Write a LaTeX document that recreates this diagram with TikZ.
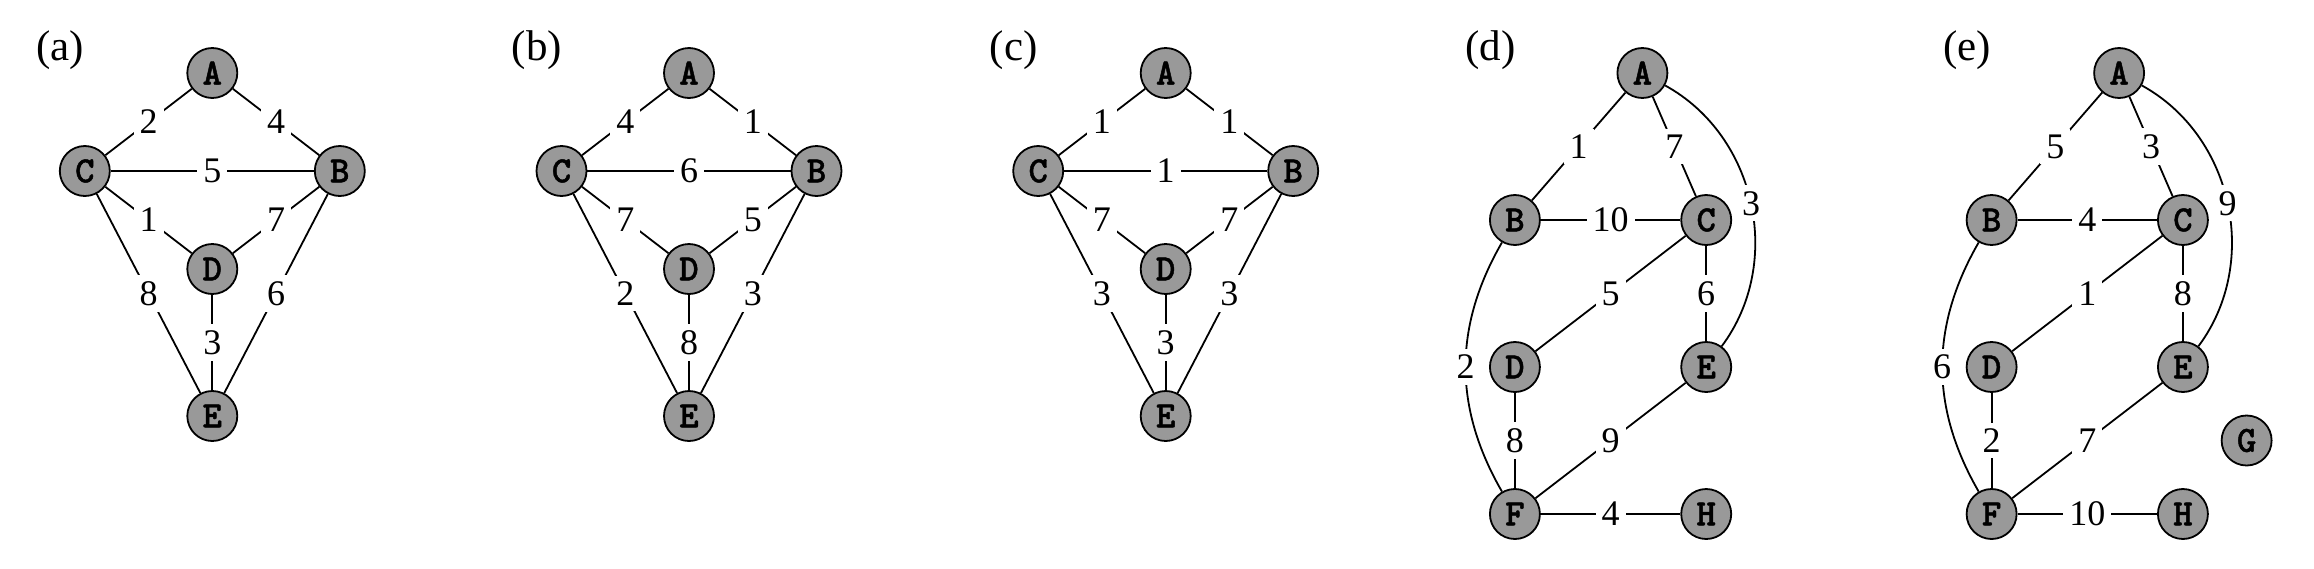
\documentclass[tikz,border=0pt]{standalone}
\usepackage{fontspec}
\setmainfont{Liberation Serif}
\IfFontExistsTF{lmmonolt10-bold.otf}
  {\newfontfamily\vtxfont{lmmonolt10-bold.otf}[FakeBold=1.2]}
  {\newfontfamily\vtxfont{Liberation Mono}[FakeBold=1.5]}
\definecolor{nodegray}{RGB}{153,153,153}
\begin{document}
\begin{tikzpicture}[x=1pt,y=-1pt,
  vtx/.style={circle, draw=black, line width=1.8pt, fill=nodegray, minimum size=50pt, inner sep=0pt,
    font=\fontsize{37}{37}\selectfont\vtxfont},
  wt/.style={fill=white, inner xsep=6pt, inner ysep=6pt, font=\fontsize{36}{36}\selectfont},
  edge/.style={line width=1.8pt},
  plabel/.style={anchor=base, font=\fontsize{43}{43}\selectfont}]
\useasboundingbox (0,0) rectangle (2314,568);

% ---------- (a) ----------
\begin{scope}[xshift=0pt]
\node[plabel] (la) at (60.3,60) {(a)};
\node[vtx] (aA) at (212.3,73) {A};
\node[vtx] (aC) at (84.8,171) {C};
\node[vtx] (aB) at (339.8,171) {B};
\node[vtx] (aD) at (212.3,269) {D};
\node[vtx] (aE) at (212.3,416) {E};
\draw[edge] (aA) -- node[wt]{2} (aC);
\draw[edge] (aA) -- node[wt]{4} (aB);
\draw[edge] (aC) -- node[wt]{5} (aB);
\draw[edge] (aC) -- node[wt]{1} (aD);
\draw[edge] (aB) -- node[wt]{7} (aD);
\draw[edge] (aC) -- node[wt]{8} (aE);
\draw[edge] (aB) -- node[wt]{6} (aE);
\draw[edge] (aD) -- node[wt]{3} (aE);
\end{scope}

% ---------- (b) ----------
\begin{scope}[xshift=476.7pt]
\node[plabel] (lb) at (60.3,60) {(b)};
\node[vtx] (bA) at (212.3,73) {A};
\node[vtx] (bC) at (84.8,171) {C};
\node[vtx] (bB) at (339.8,171) {B};
\node[vtx] (bD) at (212.3,269) {D};
\node[vtx] (bE) at (212.3,416) {E};
\draw[edge] (bA) -- node[wt]{4} (bC);
\draw[edge] (bA) -- node[wt]{1} (bB);
\draw[edge] (bC) -- node[wt]{6} (bB);
\draw[edge] (bC) -- node[wt]{7} (bD);
\draw[edge] (bB) -- node[wt]{5} (bD);
\draw[edge] (bC) -- node[wt]{2} (bE);
\draw[edge] (bB) -- node[wt]{3} (bE);
\draw[edge] (bD) -- node[wt]{8} (bE);
\end{scope}

% ---------- (c) ----------
\begin{scope}[xshift=953.4pt]
\node[plabel] (lc) at (60.3,60) {(c)};
\node[vtx] (cA) at (212.3,73) {A};
\node[vtx] (cC) at (84.8,171) {C};
\node[vtx] (cB) at (339.8,171) {B};
\node[vtx] (cD) at (212.3,269) {D};
\node[vtx] (cE) at (212.3,416) {E};
\draw[edge] (cA) -- node[wt]{1} (cC);
\draw[edge] (cA) -- node[wt]{1} (cB);
\draw[edge] (cC) -- node[wt]{1} (cB);
\draw[edge] (cC) -- node[wt]{7} (cD);
\draw[edge] (cB) -- node[wt]{7} (cD);
\draw[edge] (cC) -- node[wt]{3} (cE);
\draw[edge] (cB) -- node[wt]{3} (cE);
\draw[edge] (cD) -- node[wt]{3} (cE);
\end{scope}

% ---------- (d) ----------
\begin{scope}[xshift=1430.1pt]
\node[plabel] (ld) at (60.3,60) {(d)};
\node[vtx] (dA) at (212.3,73) {A};
\node[vtx] (dB) at (84.8,220) {B};
\node[vtx] (dC) at (276.1,220) {C};
\node[vtx] (dD) at (84.8,367) {D};
\node[vtx] (dE) at (276.1,367) {E};
\node[vtx] (dF) at (84.8,514) {F};
\node[vtx] (dH) at (276.1,514) {H};
\draw[edge] (dA) -- node[wt]{1} (dB);
\draw[edge] (dA) -- node[wt]{7} (dC);
\draw[edge] (dA) to[bend left=49] node[wt]{3} (dE);
\draw[edge] (dB) -- node[wt]{10} (dC);
\draw[edge] (dC) -- node[wt]{5} (dD);
\draw[edge] (dC) -- node[wt]{6} (dE);
\draw[edge] (dB) to[bend right=30] node[wt]{2} (dF);
\draw[edge] (dD) -- node[wt]{8} (dF);
\draw[edge] (dE) -- node[wt]{9} (dF);
\draw[edge] (dF) -- node[wt]{4} (dH);
\end{scope}

% ---------- (e) ----------
\begin{scope}[xshift=1906.8pt]
\node[plabel] (le) at (60.3,60) {(e)};
\node[vtx] (eA) at (212.3,73) {A};
\node[vtx] (eB) at (84.8,220) {B};
\node[vtx] (eC) at (276.1,220) {C};
\node[vtx] (eD) at (84.8,367) {D};
\node[vtx] (eE) at (276.1,367) {E};
\node[vtx] (eF) at (84.8,514) {F};
\node[vtx] (eH) at (276.1,514) {H};
\node[vtx] (eG) at (339.8,440.5) {G};
\draw[edge] (eA) -- node[wt]{5} (eB);
\draw[edge] (eA) -- node[wt]{3} (eC);
\draw[edge] (eA) to[bend left=49] node[wt]{9} (eE);
\draw[edge] (eB) -- node[wt]{4} (eC);
\draw[edge] (eC) -- node[wt]{1} (eD);
\draw[edge] (eC) -- node[wt]{8} (eE);
\draw[edge] (eB) to[bend right=30] node[wt]{6} (eF);
\draw[edge] (eD) -- node[wt]{2} (eF);
\draw[edge] (eE) -- node[wt]{7} (eF);
\draw[edge] (eF) -- node[wt]{10} (eH);
\end{scope}
\end{tikzpicture}
\end{document}
